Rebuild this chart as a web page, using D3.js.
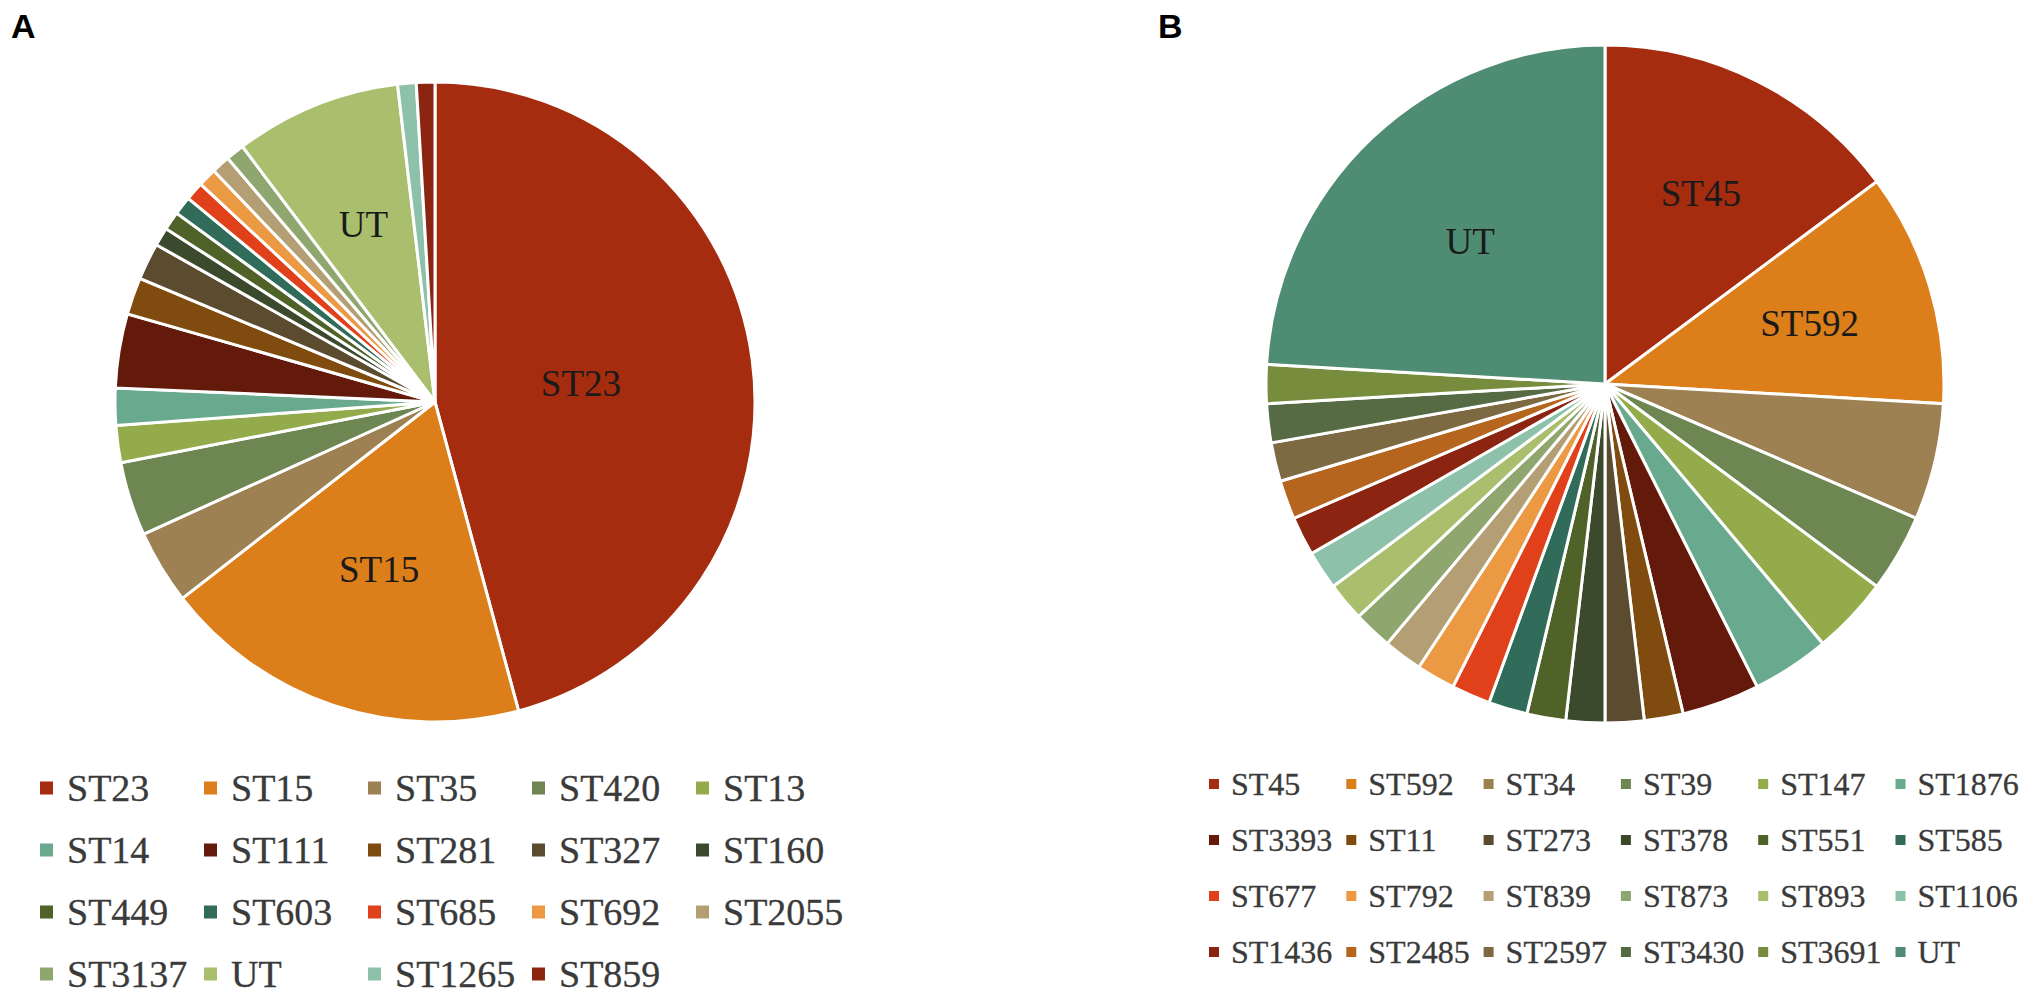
<!DOCTYPE html>
<html>
<head>
<meta charset="utf-8">
<script src="https://cdn.jsdelivr.net/npm/d3@7"></script>
<style>
  body { margin: 0; background: #fff; }
  svg { display: block; }
</style>
</head>
<body>
<svg id="fig" width="2021" height="996"></svg>
<script>
// panel A: sequence types, isolate counts
var stA = ['ST23','ST15','ST35','ST420','ST13','ST14','ST111','ST281','ST327','ST160',
           'ST449','ST603','ST685','ST692','ST2055','ST3137','UT','ST1265','ST859'];
var countA = [49, 20, 4, 4, 2, 2, 4, 2, 2, 1, 1, 1, 1, 1, 1, 1, 9, 1, 1];

// panel B
var stB = ['ST45','ST592','ST34','ST39','ST147','ST1876','ST3393','ST11','ST273','ST378',
           'ST551','ST585','ST677','ST792','ST839','ST873','ST893','ST1106','ST1436','ST2485',
           'ST2597','ST3430','ST3691','UT'];
var countB = [8, 6, 3, 2, 2, 2, 2, 1, 1, 1, 1, 1, 1, 1, 1, 1, 1, 1, 1, 1, 1, 1, 1, 13];

// office-ish palette, same order in both panels
var paletteA = ['#a52c0f','#dc7e19','#9e8152','#6d8652','#94ab4b','#69aa8f','#631a0b','#7f4b0e',
                '#5b4b2f','#3b4a2c','#4f6329','#306c59','#e0411a','#eb9a43','#b49f75','#8fa66e',
                '#a9bf6d','#8dc1a9','#8b2511'];
var paletteB = ['#a52c0f','#dc7e19','#9e8152','#6d8652','#94ab4b','#69aa8f','#631a0b','#7f4b0e',
                '#5b4b2f','#3b4a2c','#4f6329','#306c59','#e0411a','#eb9a43','#b49f75','#8fa66e',
                '#a9bf6d','#8dc1a9','#8b2511','#b5651d','#7d6a42','#566b43','#778d3d','#4f8c74'];

var serif = '"Liberation Serif", "Times New Roman", "DejaVu Serif", serif';
var svg = d3.select('#fig');

function drawPie(cfg) {
    var data = cfg.names.map(function(n, i) { return {name: n, value: cfg.values[i]}; });
    var color = d3.scaleOrdinal().domain(cfg.names).range(cfg.palette);

    var pie = d3.pie().sort(null).value(function(d) { return d.value; });
    var arc = d3.arc().innerRadius(0).outerRadius(cfg.r);

    var g = svg.append('g').attr('transform', 'translate(' + cfg.cx + ',' + cfg.cy + ')');
    var arcs = pie(data);

    g.selectAll('path')
        .data(arcs)
        .enter()
        .append('path')
        .attr('d', arc)
        .attr('fill', function(d) { return color(d.data.name); })
        .attr('stroke', '#fff')
        .attr('stroke-width', 3);

    // only the big slices carry their name, placed at a fraction of the radius
    g.selectAll('text')
        .data(arcs.filter(function(d) { return cfg.labelAt[d.data.name] !== undefined; }))
        .enter()
        .append('text')
        .attr('transform', function(d) {
            var k = cfg.r * cfg.labelAt[d.data.name];
            return 'translate(' + d3.arc().innerRadius(k).outerRadius(k).centroid(d) + ')';
        })
        .attr('text-anchor', 'middle')
        .attr('dy', '0.35em')
        .style('font-family', serif)
        .style('font-size', '37px')
        .style('fill', '#1a1a1a')
        .text(function(d) { return d.data.name; });

    // legend grid underneath
    var lg = svg.append('g').attr('class', 'legend');
    var items = lg.selectAll('g')
        .data(cfg.names)
        .enter()
        .append('g')
        .attr('transform', function(d, i) {
            var col = i % cfg.cols, row = Math.floor(i / cfg.cols);
            return 'translate(' + (cfg.lx + col * cfg.colStep) + ',' + (cfg.ly + row * cfg.rowStep) + ')';
        });
    items.append('rect')
        .attr('x', 0)
        .attr('y', -cfg.box / 2)
        .attr('width', cfg.box)
        .attr('height', cfg.box)
        .attr('fill', function(d) { return color(d); });
    items.append('text')
        .attr('x', cfg.textGap)
        .attr('dy', '0.35em')
        .style('font-family', serif)
        .style('font-size', cfg.fontSize + 'px')
        .style('fill', '#3a3a3a')
        .style('stroke', '#3a3a3a')
        .style('stroke-width', 0.3)
        .text(function(d) { return d; });
}

drawPie({
    names: stA, values: countA, palette: paletteA,
    labelAt: {ST23: 0.46, ST15: 0.55, UT: 0.6},
    cx: 435, cy: 402, r: 320,
    cols: 5, lx: 40, ly: 788, colStep: 164, rowStep: 62, box: 13, textGap: 27, fontSize: 38
});

drawPie({
    names: stB, values: countB, palette: paletteB,
    labelAt: {ST45: 0.63, ST592: 0.63, UT: 0.58},
    cx: 1605, cy: 384, r: 339,
    cols: 6, lx: 1209, ly: 784, colStep: 137.3, rowStep: 56, box: 10, textGap: 22, fontSize: 32
});

// panel letters
svg.append('text').attr('x', 11).attr('y', 38)
    .style('font-family', '"Liberation Sans", Arial, sans-serif')
    .style('font-weight', 'bold').style('font-size', '34px')
    .text('A');
svg.append('text').attr('x', 1158).attr('y', 38)
    .style('font-family', '"Liberation Sans", Arial, sans-serif')
    .style('font-weight', 'bold').style('font-size', '34px')
    .text('B');
</script>
</body>
</html>
